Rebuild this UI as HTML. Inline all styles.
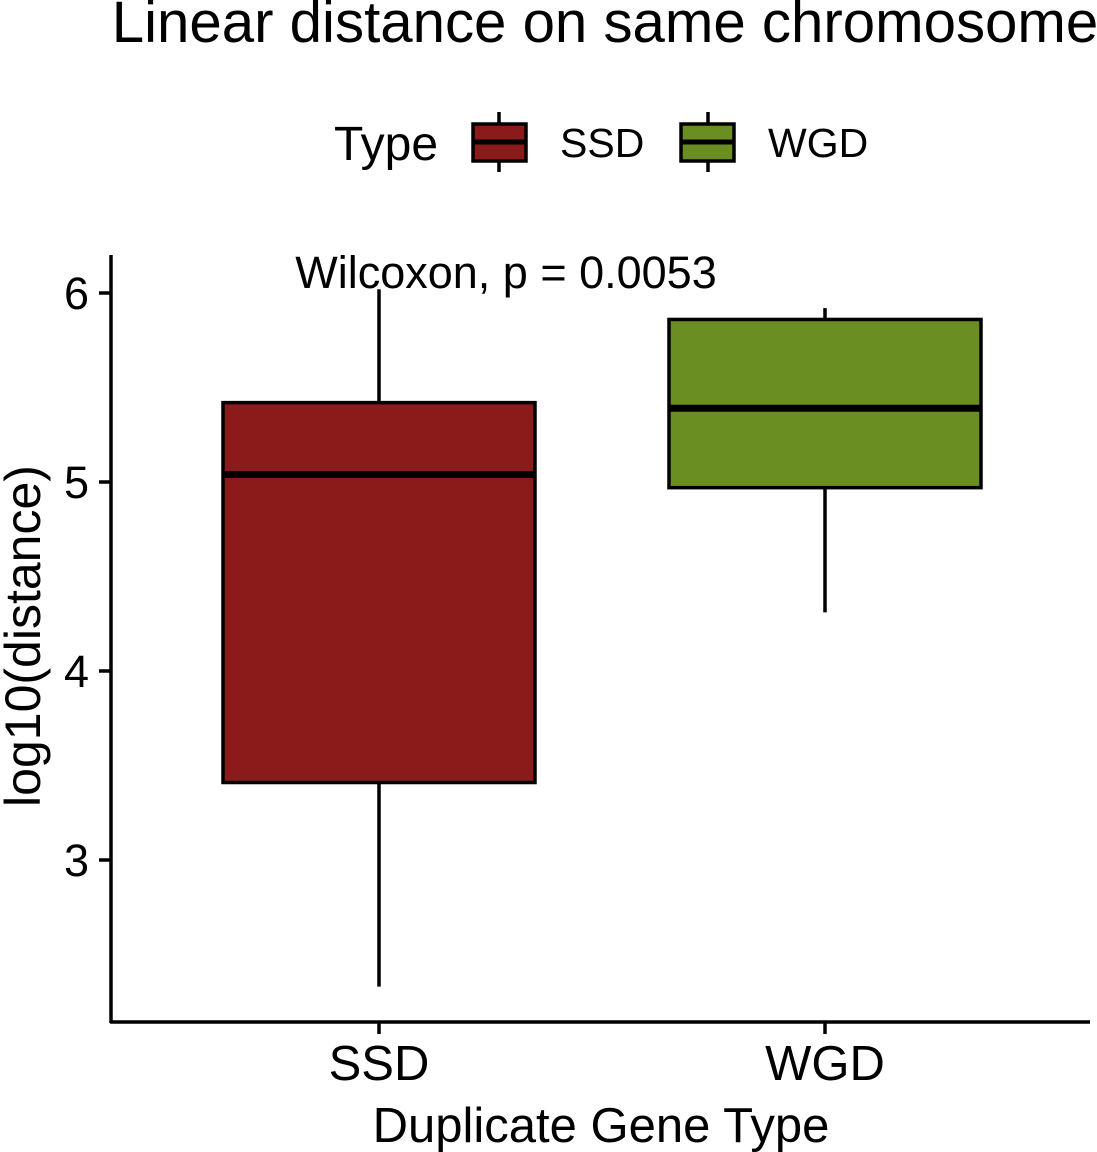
<!DOCTYPE html>
<html><head><meta charset="utf-8"><style>
html,body{margin:0;padding:0;background:#fff;}
svg{display:block;font-family:"Liberation Sans",sans-serif;}
</style></head><body>
<svg id="chart" width="1097" height="1152" viewBox="0 0 1097 1152">
<text x="605" y="42" font-size="58.2" text-anchor="middle">Linear distance on same chromosome</text>
<g>
<text x="334" y="160" font-size="48">Type</text>
<g>
<line x1="499" y1="112" x2="499" y2="172" stroke="#000" stroke-width="3.5"/>
<rect x="473" y="124" width="53" height="37" fill="#8B1A1A" stroke="#000" stroke-width="3.5"/>
<line x1="473" y1="142" x2="526" y2="142" stroke="#000" stroke-width="5"/>
<text x="560" y="157" font-size="41">SSD</text></g>
<g>
<line x1="708" y1="112" x2="708" y2="172" stroke="#000" stroke-width="3.5"/>
<rect x="681" y="124" width="53" height="37" fill="#6B8E23" stroke="#000" stroke-width="3.5"/>
<line x1="681" y1="142" x2="734" y2="142" stroke="#000" stroke-width="5"/>
<text x="768" y="157" font-size="41">WGD</text></g>
</g>
<g id="plot"></g>
<text x="506" y="288" font-size="45" text-anchor="middle">Wilcoxon, p = 0.0053</text>
<text x="601" y="1142" font-size="49" text-anchor="middle">Duplicate Gene Type</text>
<text transform="translate(40,636) rotate(-90)" font-size="50" text-anchor="middle">log10(distance)</text>
</svg>
<script>
const categories=["SSD","WGD"];
const colors=["#8B1A1A","#6B8E23"];
const whiskerLow=[2.33,4.31];
const q1=[3.41,4.97];
const median=[5.04,5.39];
const q3=[5.42,5.86];
const whiskerHigh=[6.02,5.92];
const yTicks=[3,4,5,6];
const y=v=>482-(v-5)*189;
const x=i=>379+i*446;
const halfW=156;
const g=document.getElementById('plot');
const NS="http://www.w3.org/2000/svg";
function mk(t,a){const e=document.createElementNS(NS,t);for(const k in a)e.setAttribute(k,a[k]);g.appendChild(e);return e;}
let e;
e=mk('line',{x1:111,y1:255,x2:111,y2:1023,stroke:'#000','stroke-width':3.5});


e=mk('line',{x1:110,y1:1022,x2:1090,y2:1022,stroke:'#000','stroke-width':3.5});


yTicks.forEach(t=>{
 e=mk('line',{x1:99,y1:y(t),x2:111,y2:y(t),stroke:'#000','stroke-width':3.5});
 
 
 e=mk('text',{x:89,y:y(t)+16,'font-size':45,'text-anchor':'end'});e.textContent=t;
 
 
});
categories.forEach((c,i)=>{
 const cx=x(i);
 e=mk('line',{x1:cx,y1:1022,x2:cx,y2:1034,stroke:'#000','stroke-width':3.5});
 
 
 e=mk('text',{x:cx,y:1080,'font-size':49,'text-anchor':'middle'});e.textContent=c;
 
 
 e=mk('line',{x1:cx,y1:y(whiskerHigh[i]),x2:cx,y2:y(q3[i]),stroke:'#000','stroke-width':3.5});
 
 
 e=mk('line',{x1:cx,y1:y(q1[i]),x2:cx,y2:y(whiskerLow[i]),stroke:'#000','stroke-width':3.5});
 
 
 e=mk('rect',{x:cx-halfW,y:y(q3[i]),width:2*halfW,height:y(q1[i])-y(q3[i]),fill:colors[i],stroke:'#000','stroke-width':3.5});
 
 
 e=mk('line',{x1:cx-halfW,y1:y(median[i]),x2:cx+halfW,y2:y(median[i]),stroke:'#000','stroke-width':7});
 
 
});
</script>
</body></html>
